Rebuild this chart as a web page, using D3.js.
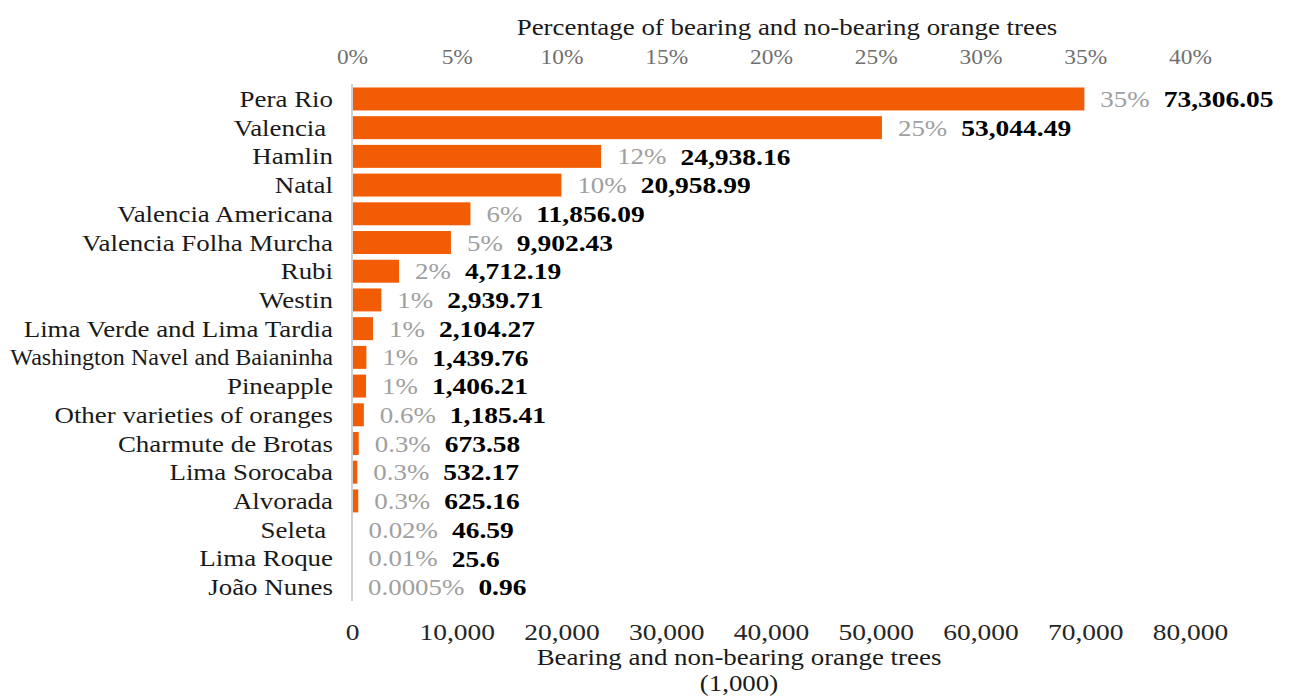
<!DOCTYPE html>
<html>
<head>
<meta charset="utf-8">
<script src="https://cdn.jsdelivr.net/npm/d3@7"></script>
<style>
  html, body { margin: 0; padding: 0; background: #fff; }
  svg text { font-family: "Liberation Serif", "Times New Roman", serif; white-space: pre; }
</style>
</head>
<body>
<svg id="chart" width="1316" height="697"></svg>
<script>
// Orange varieties, ordered as listed
const varieties = [
  "Pera Rio", "Valencia ", "Hamlin", "Natal", "Valencia Americana",
  "Valencia Folha Murcha", "Rubi", "Westin", "Lima Verde and Lima Tardia",
  "Washington Navel and Baianinha", "Pineapple", "Other varieties of oranges",
  "Charmute de Brotas", "Lima Sorocaba", "Alvorada", "Seleta ", "Lima Roque",
  "João Nunes"
];
// Bearing and non-bearing trees (1,000)
const trees = [
  73306.05, 53044.49, 24938.16, 20958.99, 11856.09, 9902.43, 4712.19, 2939.71,
  2104.27, 1439.76, 1406.21, 1185.41, 673.58, 532.17, 625.16, 46.59, 25.6, 0.96
];
// Share labels as printed next to each bar
const shareLabels = [
  "35%", "25%", "12%", "10%", "6%", "5%", "2%", "1%", "1%", "1%", "1%",
  "0.6%", "0.3%", "0.3%", "0.3%", "0.02%", "0.01%", "0.0005%"
];
const pctTicks = [0, 5, 10, 15, 20, 25, 30, 35, 40];
const countTicks = [0, 10000, 20000, 30000, 40000, 50000, 60000, 70000, 80000];

const total = d3.sum(trees);
const rows = varieties.map((name, i) => ({
  name, value: trees[i], share: trees[i] / total * 100, label: shareLabels[i]
}));

const svg = d3.select("#chart");
const left = 352, right = 1190;
const sx = 1.17; // horizontal stretch of the lettering
const labelRight = 333, labelMaxWidth = 323;

const xPct = d3.scaleLinear().domain([0, 40]).range([left, right]);
const xCount = d3.scaleLinear().domain([0, 80000]).range([left, right]);
const y = d3.scaleBand().domain(varieties).range([84.6, 601.4])
  .paddingInner(0.2).paddingOuter(0.1);

function stretchedText(sel) {
  return sel.attr("transform", d => `translate(${d.x},${d.y}) scale(${sx},1)`);
}

// Top axis (percentage)
const topAxis = svg.append("g").attr("transform", "translate(0,57)")
  .call(d3.axisTop(xPct).tickValues(pctTicks).tickFormat(d => d + "%").tickSize(0).tickPadding(0));
topAxis.select(".domain").remove();
topAxis.attr("font-family", null);
topAxis.selectAll("text")
  .attr("dy", "0.35em").attr("y", 0)
  .attr("transform", `scale(${sx},1)`)
  .style("font-size", "20px").attr("fill", "#707070");

// Bottom axis (tree counts)
const bottomAxis = svg.append("g").attr("transform", "translate(0,632)")
  .call(d3.axisBottom(xCount).tickValues(countTicks).tickFormat(d3.format(",")).tickSize(0).tickPadding(0));
bottomAxis.select(".domain").remove();
bottomAxis.attr("font-family", null);
bottomAxis.selectAll("text")
  .attr("dy", "0.35em").attr("y", 0)
  .attr("transform", `scale(${sx},1)`)
  .style("font-size", "23.5px").attr("fill", "#262626");

// Bars
svg.append("g").selectAll("rect").data(rows).join("rect")
  .attr("x", xPct(0))
  .attr("y", d => y(d.name))
  .attr("width", d => xPct(d.share) - xPct(0))
  .attr("height", y.bandwidth())
  .attr("fill", "#f25c05");

// Vertical category axis line
svg.append("line")
  .attr("x1", left).attr("x2", left)
  .attr("y1", 84).attr("y2", 601)
  .attr("stroke", "#d0d0d0").attr("stroke-width", 2);

// Category names (long names are condensed to fit the left margin)
svg.append("g").selectAll("text").data(rows).join("text")
  .attr("text-anchor", "end").attr("dy", "0.35em")
  .style("font-size", "23px").attr("fill", "#1a1a1a")
  .text(d => d.name)
  .each(function (d) {
    const w = this.getBBox().width;
    const k = Math.min(sx, labelMaxWidth / w);
    d3.select(this).attr("transform",
      `translate(${labelRight},${y(d.name) + y.bandwidth() / 2}) scale(${k},1)`);
  });

// Share and value labels
const labels = svg.append("g").selectAll("g").data(rows).join("g");
labels.each(function (d) {
  const g = d3.select(this);
  const cy = y(d.name) + y.bandwidth() / 2;
  const px = xPct(d.share) + 16;
  const pct = g.append("text")
    .datum({ x: px, y: cy })
    .call(stretchedText)
    .attr("dy", "0.35em")
    .style("font-size", "23px").attr("fill", "#a0a0a0")
    .text(d.label);
  const w = pct.node().getBBox().width * sx;
  g.append("text")
    .datum({ x: px + w + 14, y: cy })
    .call(stretchedText)
    .attr("dy", "0.35em")
    .style("font-size", "23.5px").style("font-weight", "bold").attr("fill", "#000")
    .text(d3.format(",")(d.value));
});

// Axis titles
svg.append("text")
  .datum({ x: 787, y: 27 }).call(stretchedText)
  .attr("text-anchor", "middle").attr("dy", "0.35em")
  .style("font-size", "23px").attr("fill", "#1a1a1a")
  .text("Percentage of bearing and no-bearing orange trees");
svg.append("text")
  .datum({ x: 739, y: 657 }).call(stretchedText)
  .attr("text-anchor", "middle").attr("dy", "0.35em")
  .style("font-size", "23px").attr("fill", "#1a1a1a")
  .text("Bearing and non-bearing orange trees");
svg.append("text")
  .datum({ x: 739, y: 683 }).call(stretchedText)
  .attr("text-anchor", "middle").attr("dy", "0.35em")
  .style("font-size", "23px").attr("fill", "#1a1a1a")
  .text("(1,000)");
</script>
</body>
</html>
